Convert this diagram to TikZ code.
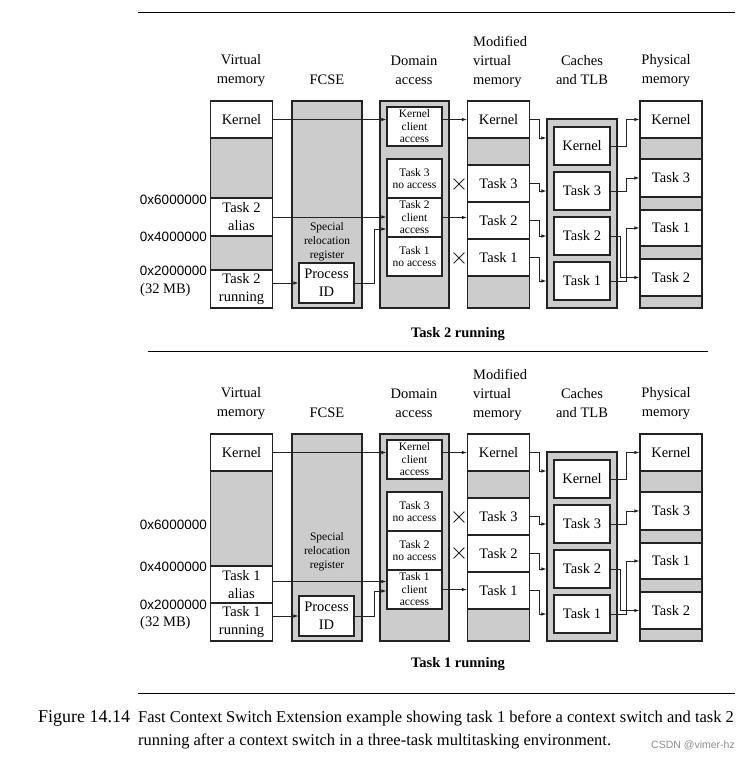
\documentclass[tikz,border=0pt]{standalone}
\usepackage{fontspec}
\setmainfont{Liberation Serif}
\newfontfamily\hexfamily{Liberation Sans}
\usepackage{tikz}
\usetikzlibrary{arrows.meta, positioning, shapes.misc, calc}

\definecolor{memgray}{RGB}{204,204,204}
\definecolor{linecol}{RGB}{35,35,35}
\newcommand{\ttlfont}{\fontsize{14.5}{19}\selectfont}
\newcommand{\boxfont}{\fontsize{14.5}{18}\selectfont}
\newcommand{\accfont}{\fontsize{11.5}{12.5}\selectfont}
\newcommand{\relfont}{\fontsize{11.5}{14}\selectfont}
\newcommand{\hexfont}{\hexfamily\fontsize{13.5}{16}\selectfont}
\newcommand{\capfont}{\fontsize{16.5}{20}\selectfont}

\begin{document}
\begin{tikzpicture}[x=1pt, y=-1pt,
    col/.style={draw=linecol, fill=memgray, line width=1.1pt, inner sep=0pt},
    mem/.style={draw=linecol, fill=white, line width=1.1pt, inner sep=0pt, align=center, font=\boxfont},
    vcell/.style={mem, minimum width=62pt, minimum height=#1},
    vcell/.default=37pt,
    ccell/.style={mem, minimum width=56pt, minimum height=38pt},
    acell/.style={mem, minimum width=55pt, minimum height=39pt, font=\accfont},
    ttl/.style={align=center, inner sep=0pt, font=\ttlfont},
    hex/.style={anchor=east, inner sep=0pt, font=\hexfont},
    arr/.style={draw=linecol, line width=0.8pt, -{Latex[length=5pt,width=3.5pt]}},
    nox/.style={cross out, draw=linecol, line width=0.8pt, minimum size=10pt, inner sep=0pt},
    rule/.style={draw=black, line width=0.9pt}]
  \useasboundingbox (0,0) rectangle (750,760);

  % ---------- Task 2 running ----------
  \draw[rule] (138,12) -- (735,12);
  \node[ttl] (vmta) at (241,70.5) {Virtual\\memory};
  \node[ttl] (fcta) at (327,80) {FCSE};
  \node[ttl] (data) at (414,70.5) {Domain\\access};
  \node[ttl, align=left, anchor=west] (mvta) at (473,61.5) {Modified\\virtual\\memory};
  \node[ttl] (ccta) at (582,70.5) {Caches\\and TLB};
  \node[ttl] (pmta) at (666,70.5) {Physical\\memory};

  \node[hex] (h6a) at (207,200) {0x6000000};
  \node[hex] (h4a) at (207,237) {0x4000000};
  \node[hex] (h2a) at (207,271) {0x2000000};
  \node[anchor=west, inner sep=0pt, font=\boxfont] (mba) at (140,290) {(32 MB)};

  % virtual memory
  \node[col, minimum width=62pt, minimum height=207pt] (vma) at (241.5,204.5) {};
  \node[vcell] (vmKa) at (241.5,119.5) {Kernel};
  \node[vcell=38pt] (vmAa) at (241.5,217) {Task 2\\alias};
  \node[vcell=38pt] (vmRa) at (241.5,289) {Task 2\\running};

  % FCSE
  \node[col, minimum width=70pt, minimum height=207pt] (fca) at (327,204.5) {};
  \node[align=center, font=\relfont] (rela) at (327,242) {Special\\relocation\\register};
  \node[mem, minimum width=55pt, minimum height=40pt] (pida) at (326.5,283) {Process\\ID};

  % domain access
  \node[col, minimum width=69pt, minimum height=207pt] (daa) at (414.5,204.5) {};
  \node[acell] (daKa) at (414.5,126.5) {Kernel\\client\\access};
  \node[acell] (daT3a) at (414.5,178.5) {Task 3\\no access};
  \node[acell] (daT2a) at (414.5,217.5) {Task 2\\client\\access};
  \node[acell] (daT1a) at (414.5,256.5) {Task 1\\no access};

  % modified virtual memory
  \node[col, minimum width=62pt, minimum height=207pt] (mva) at (498.5,204.5) {};
  \node[vcell] (mvKa) at (498.5,119.5) {Kernel};
  \node[vcell] (mvT3a) at (498.5,183.5) {Task 3};
  \node[vcell] (mvT2a) at (498.5,220.5) {Task 2};
  \node[vcell] (mvT1a) at (498.5,257.5) {Task 1};
  \node[nox] (xT3a) at (459,184) {};
  \node[nox] (xT1a) at (459,258) {};

  % caches and TLB
  \node[col, minimum width=70pt, minimum height=189pt] (cca) at (582,213.5) {};
  \node[ccell] (cKa) at (582,146) {Kernel};
  \node[ccell] (cT3a) at (582,191) {Task 3};
  \node[ccell] (cT2a) at (582,236) {Task 2};
  \node[ccell] (cT1a) at (582,281) {Task 1};

  % physical memory
  \node[col, minimum width=62pt, minimum height=207pt] (pma) at (671,204.5) {};
  \node[vcell] (pKa) at (671,119.5) {Kernel};
  \node[vcell=38pt] (pT3a) at (671,178) {Task 3};
  \node[vcell=36pt] (pT1a) at (671,228) {Task 1};
  \node[vcell] (pT2a) at (671,277.5) {Task 2};

  % connections
  \draw[arr] (vmKa.east) -- (vmKa.east -| daKa.west);
  \draw[arr] (vmAa.east) -- (vmAa.east -| daT2a.west);
  \draw[arr] (pida.west -| vmRa.east) -- (pida.west);
  \draw[arr] (pida.east) -- ++(20,0) |- ([yshift=-11.5pt]daT2a.west);
  \draw[arr] (mvKa.west -| daKa.east) -- (mvKa.west);
  \draw[arr] (daT2a.east) -- (daT2a.east -| mvT2a.west);
  \draw[arr] (mvKa.east) -- ++(9,0) |- ([yshift=8pt]cKa.west -| cca.west);
  \draw[arr] (mvT3a.east) -- ++(9,0) |- (cT3a.west -| cca.west);
  \draw[arr] (mvT2a.east) -- ++(9,0) |- (cT2a.west -| cca.west);
  \draw[arr] (mvT1a.east) -- ++(9,0) |- (cT1a.west -| cca.west);
  \draw[arr] (cKa.east) -- ++(16,0) |- (pKa.west);
  \draw[arr] (cT3a.east) -- ++(16,0) |- (pT3a.west);
  \draw[arr] (cT2a.east) -- ++(10,0) |- (pT2a.west);
  \draw[arr] (cT1a.east) -- ++(16,0) |- (pT1a.west);

  \node[font=\bfseries\boxfont] (runa) at (458,334) {Task 2 running};
  \draw[rule] (148,351) -- (708,351);

  % ---------- Task 1 running ----------
  \node[ttl] (vmtb) at (241,403.5) {Virtual\\memory};
  \node[ttl] (fctb) at (327,413) {FCSE};
  \node[ttl] (datb) at (414,403.5) {Domain\\access};
  \node[ttl, align=left, anchor=west] (mvtb) at (473,394.5) {Modified\\virtual\\memory};
  \node[ttl] (cctb) at (582,403.5) {Caches\\and TLB};
  \node[ttl] (pmtb) at (666,403.5) {Physical\\memory};

  \node[hex] (h6b) at (207,525) {0x6000000};
  \node[hex] (h4b) at (207,567) {0x4000000};
  \node[hex] (h2b) at (207,605) {0x2000000};
  \node[anchor=west, inner sep=0pt, font=\boxfont] (mbb) at (140,623) {(32 MB)};

  % virtual memory
  \node[col, minimum width=62pt, minimum height=207pt] (vmb) at (241.5,537.5) {};
  \node[vcell] (vmKb) at (241.5,452.5) {Kernel};
  \node[vcell] (vmAb) at (241.5,584.5) {Task 1\\alias};
  \node[vcell=38pt] (vmRb) at (241.5,622) {Task 1\\running};

  % FCSE
  \node[col, minimum width=70pt, minimum height=207pt] (fcb) at (327,537.5) {};
  \node[align=center, font=\relfont] (relb) at (327,552) {Special\\relocation\\register};
  \node[mem, minimum width=55pt, minimum height=40pt] (pidb) at (326.5,616) {Process\\ID};

  % domain access
  \node[col, minimum width=69pt, minimum height=207pt] (dab) at (414.5,537.5) {};
  \node[acell] (daKb) at (414.5,459.5) {Kernel\\client\\access};
  \node[acell] (daT3b) at (414.5,511.5) {Task 3\\no access};
  \node[acell] (daT2b) at (414.5,550.5) {Task 2\\no access};
  \node[acell] (daT1b) at (414.5,589.5) {Task 1\\client\\access};

  % modified virtual memory
  \node[col, minimum width=62pt, minimum height=207pt] (mvb) at (498.5,537.5) {};
  \node[vcell] (mvKb) at (498.5,452.5) {Kernel};
  \node[vcell] (mvT3b) at (498.5,516.5) {Task 3};
  \node[vcell] (mvT2b) at (498.5,553.5) {Task 2};
  \node[vcell] (mvT1b) at (498.5,590.5) {Task 1};
  \node[nox] (xT3b) at (459,517) {};
  \node[nox] (xT2b) at (459,553) {};

  % caches and TLB
  \node[col, minimum width=70pt, minimum height=189pt] (ccb) at (582,546.5) {};
  \node[ccell] (cKb) at (582,479) {Kernel};
  \node[ccell] (cT3b) at (582,524) {Task 3};
  \node[ccell] (cT2b) at (582,569) {Task 2};
  \node[ccell] (cT1b) at (582,614) {Task 1};

  % physical memory
  \node[col, minimum width=62pt, minimum height=207pt] (pmb) at (671,537.5) {};
  \node[vcell] (pKb) at (671,452.5) {Kernel};
  \node[vcell=38pt] (pT3b) at (671,511) {Task 3};
  \node[vcell=36pt] (pT1b) at (671,561) {Task 1};
  \node[vcell] (pT2b) at (671,610.5) {Task 2};

  % connections
  \draw[arr] (vmKb.east) -- (vmKb.east -| daKb.west);
  \draw[arr] ([yshift=3pt]vmAb.east) -- ([yshift=3pt]vmAb.east -| daT1b.west);
  \draw[arr] (pidb.west -| vmRb.east) -- (pidb.west);
  \draw[arr] (pidb.east) -- ++(20,0) |- ([yshift=-1.5pt]daT1b.west);
  \draw[arr] (mvKb.west -| daKb.east) -- (mvKb.west);
  \draw[arr] (daT1b.east) -- (daT1b.east -| mvT1b.west);
  \draw[arr] (mvKb.east) -- ++(9,0) |- ([yshift=8pt]cKb.west -| ccb.west);
  \draw[arr] (mvT3b.east) -- ++(9,0) |- (cT3b.west -| ccb.west);
  \draw[arr] (mvT2b.east) -- ++(9,0) |- (cT2b.west -| ccb.west);
  \draw[arr] (mvT1b.east) -- ++(9,0) |- (cT1b.west -| ccb.west);
  \draw[arr] (cKb.east) -- ++(16,0) |- (pKb.west);
  \draw[arr] (cT3b.east) -- ++(16,0) |- (pT3b.west);
  \draw[arr] (cT2b.east) -- ++(10,0) |- (pT2b.west);
  \draw[arr] (cT1b.east) -- ++(16,0) |- (pT1b.west);

  \node[font=\bfseries\boxfont] (runb) at (458,664) {Task 1 running};
  \draw[rule] (138,693) -- (735,693);

  % caption
  \node[anchor=west, inner sep=0pt, font=\fontsize{18}{20}\selectfont] (fig) at (38,718) {Figure 14.14};
  \node[anchor=west, inner sep=0pt, font=\capfont] (capa) at (138,718) {Fast Context Switch Extension example showing task 1 before a context switch and task 2};
  \node[anchor=west, inner sep=0pt, font=\capfont] (capb) at (138,741) {running after a context switch in a three-task multitasking environment.};
  \node[anchor=east, inner sep=0pt, text=black!45, font=\hexfamily\fontsize{10.5}{12}\selectfont] (wm) at (735,745) {CSDN @vimer-hz};
\end{tikzpicture}
\end{document}
